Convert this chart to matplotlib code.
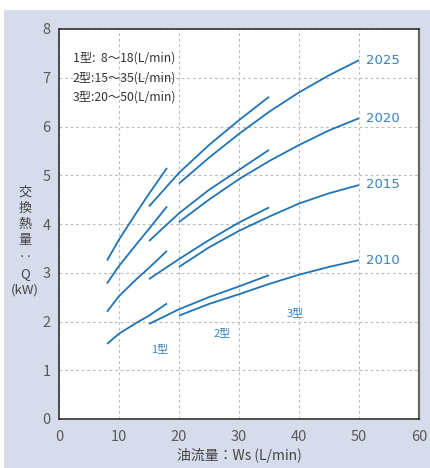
import matplotlib
matplotlib.use("Agg")
import matplotlib.pyplot as plt
from matplotlib.patches import Rectangle

plt.rcParams['font.family'] = ['Noto Sans CJK JP', 'DejaVu Sans']

# ----------------------------------------------------------------------------------------------------------------------
# Data

years = ["2010", "2015", "2020", "2025"]

# 1型: 8~18 L/min
x_type1 = [8, 10, 13, 15, 18]
q_type1 = {
    "2010": [1.54, 1.75, 1.98, 2.12, 2.37],
    "2015": [2.20, 2.52, 2.88, 3.10, 3.45],
    "2020": [2.78, 3.14, 3.60, 3.90, 4.36],
    "2025": [3.25, 3.68, 4.25, 4.62, 5.15],
}

# 2型: 15~35 L/min
x_type2 = [15, 20, 25, 30, 35]
q_type2 = {
    "2010": [1.95, 2.25, 2.50, 2.72, 2.95],
    "2015": [2.87, 3.28, 3.67, 4.03, 4.34],
    "2020": [3.65, 4.22, 4.70, 5.11, 5.52],
    "2025": [4.36, 5.05, 5.62, 6.13, 6.61],
}

# 3型: 20~50 L/min
x_type3 = [20, 25, 30, 35, 40, 45, 50]
q_type3 = {
    "2010": [2.12, 2.36, 2.56, 2.77, 2.96, 3.12, 3.26],
    "2015": [3.12, 3.52, 3.86, 4.15, 4.42, 4.63, 4.80],
    "2020": [4.04, 4.50, 4.92, 5.29, 5.62, 5.92, 6.17],
    "2025": [4.83, 5.36, 5.85, 6.30, 6.70, 7.05, 7.36],
}

type_names = ["1型", "2型", "3型"]
type_label_pos = [(16.8, 1.44), (27.2, 1.76), (39.3, 2.17)]
range_notes = ["1型:  8～18(L/min)", "2型:15～35(L/min)", "3型:20～50(L/min)"]
ylabel_lines = ["交", "換", "熱", "量", "‥", "Q", "(kW)"]

# ----------------------------------------------------------------------------------------------------------------------

line_color = "#1f73b7"
text_color = "#3581c0"
tick_color = "#5a5a5a"

fig = plt.figure(figsize=(4.30, 4.68), dpi=100)

# Lavender background panel (behind the axes)
fig.patches.append(Rectangle((4 / 430, 0), 426 / 430, 458 / 468, transform=fig.transFigure,
                             facecolor="#d6dcec", edgecolor="none", zorder=-10))

ax = fig.add_axes([59 / 430, 49 / 468, 360 / 430, 390 / 468])
ax.set_facecolor("white")
ax.set_xlim(0, 60)
ax.set_ylim(0, 8)

# Draw all curves
for x_vals, q_vals in [(x_type1, q_type1), (x_type2, q_type2), (x_type3, q_type3)]:
    for yr in years:
        ax.plot(x_vals, q_vals[yr], color=line_color, lw=1.3, solid_capstyle="butt")

# Year labels at the end of the 3型 curves
for yr in years:
    ax.text(x_type3[-1] + 1.1, q_type3[yr][-1], yr, color=text_color, fontsize=9.5,
            va="center", ha="left", family=["DejaVu Sans"])

# Type labels
for name, (tx, ty) in zip(type_names, type_label_pos):
    ax.text(tx, ty, name, color=text_color, fontsize=8, ha="center", va="center")

# Flow range notes
for i, note in enumerate(range_notes):
    ax.text(2.3, 7.4 - i * 0.4, note, color="#333333", fontsize=8.8, ha="left", va="center")

# Grid and axes styling
ax.set_xticks(range(0, 61, 10))
ax.set_yticks(range(0, 9))
ax.grid(True, linestyle=(0, (2.5, 2.5)), color="#bbbbbb", lw=0.8)
ax.set_axisbelow(True)
ax.tick_params(length=0, labelsize=10.5, colors=tick_color)
ax.tick_params(axis="y", pad=6)
ax.tick_params(axis="x", pad=8)
for side in ["left", "bottom", "top"]:
    ax.spines[side].set_color("#333333")
    ax.spines[side].set_linewidth(1.2)
ax.spines["right"].set_color("#666666")
ax.spines["right"].set_linewidth(1.6)

ax.set_xlabel("油流量：Ws (L/min)", fontsize=10, color="#444444", labelpad=3)

# Vertical stacked y-axis label, one line per text
for i, part in enumerate(ylabel_lines):
    fig.text(25 / 430, 1 - (192 + i * 16.3) / 468, part, fontsize=9.5, color="#444444",
             ha="center", va="center")

fig.savefig("out.png", dpi=100)
